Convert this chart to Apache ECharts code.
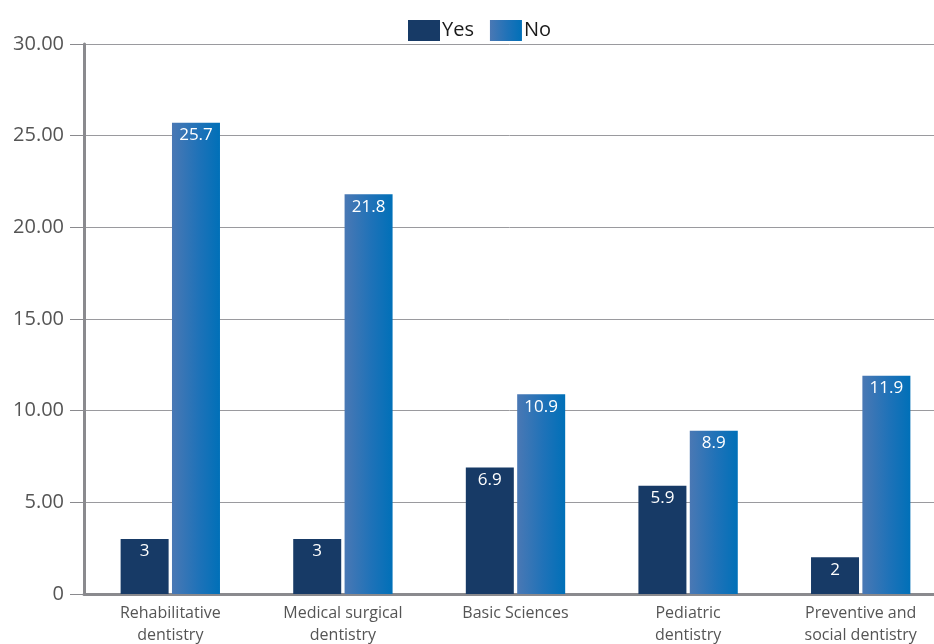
<!DOCTYPE html>
<html><head><meta charset="utf-8">
<script src="https://cdn.jsdelivr.net/npm/echarts@6/dist/echarts.min.js"></script>
<style>html,body{margin:0;padding:0;background:#fff}#c{width:934px;height:644px}</style>
</head><body><div id="c"></div>
<script>
const categories = ['Rehabilitative\ndentistry','Medical surgical\ndentistry','Basic Sciences','Pediatric\ndentistry','Preventive and\nsocial dentistry'];
const yesValues = [3, 3, 6.9, 5.9, 2];
const noValues = [25.7, 21.8, 10.9, 8.9, 11.9];
const seriesNames = ['Yes', 'No'];

const FONT = '"Open Sans", "Noto Sans", sans-serif';
const chart = echarts.init(document.getElementById('c'), null, {renderer:'canvas'});
const noGrad = new echarts.graphic.LinearGradient(0,0,1,0,[{offset:0,color:'#4a78b4'},{offset:0.55,color:'#1f72b8'},{offset:1,color:'#0070b8'}]);
const labelCfg = {show:true, position:'insideTop', distance:4, color:'#fff', fontSize:17, fontFamily:FONT};
chart.setOption({
  animation:false,
  textStyle:{fontFamily:FONT},
  legend:{top:15, left:403, itemWidth:32, itemHeight:21, itemGap:16,
    textStyle:{fontSize:20, color:'#1a1a1a', fontFamily:FONT, padding:[0,0,0,-3]},
    data:[{name:'Yes', icon:'rect'},{name:'No', icon:'rect'}]},
  grid:{left:84, width:863, top:44, height:550, containLabel:false, outerBoundsMode:'none'},
  xAxis:{type:'category', data:categories,
    axisLine:{lineStyle:{color:'#8a8a8e', width:3}},
    axisTick:{show:false},
    axisLabel:{color:'#555', fontSize:16, fontFamily:FONT, lineHeight:22, margin:8}},
  yAxis:{type:'value', min:0, max:30, interval:5,
    axisLine:{show:true, lineStyle:{color:'#8a8a8e', width:3}},
    axisTick:{show:true, length:14, lineStyle:{color:'#8a8a8e', width:1}},
    splitLine:{show:true, lineStyle:{color:'#9a9a9e', width:1}},
    axisLabel:{color:'#555', fontSize:20, fontFamily:FONT, margin:20,
      formatter:v => v === 0 ? '0' : v.toFixed(2)}},
  series:[
    {name:seriesNames[0], type:'bar', data:yesValues, barWidth:48, barGap:'7%',
      itemStyle:{color:'#173a66'}, label:labelCfg},
    {name:seriesNames[1], type:'bar', data:noValues, barWidth:48,
      itemStyle:{color:noGrad}, label:labelCfg}
  ]
});
</script></body></html>
